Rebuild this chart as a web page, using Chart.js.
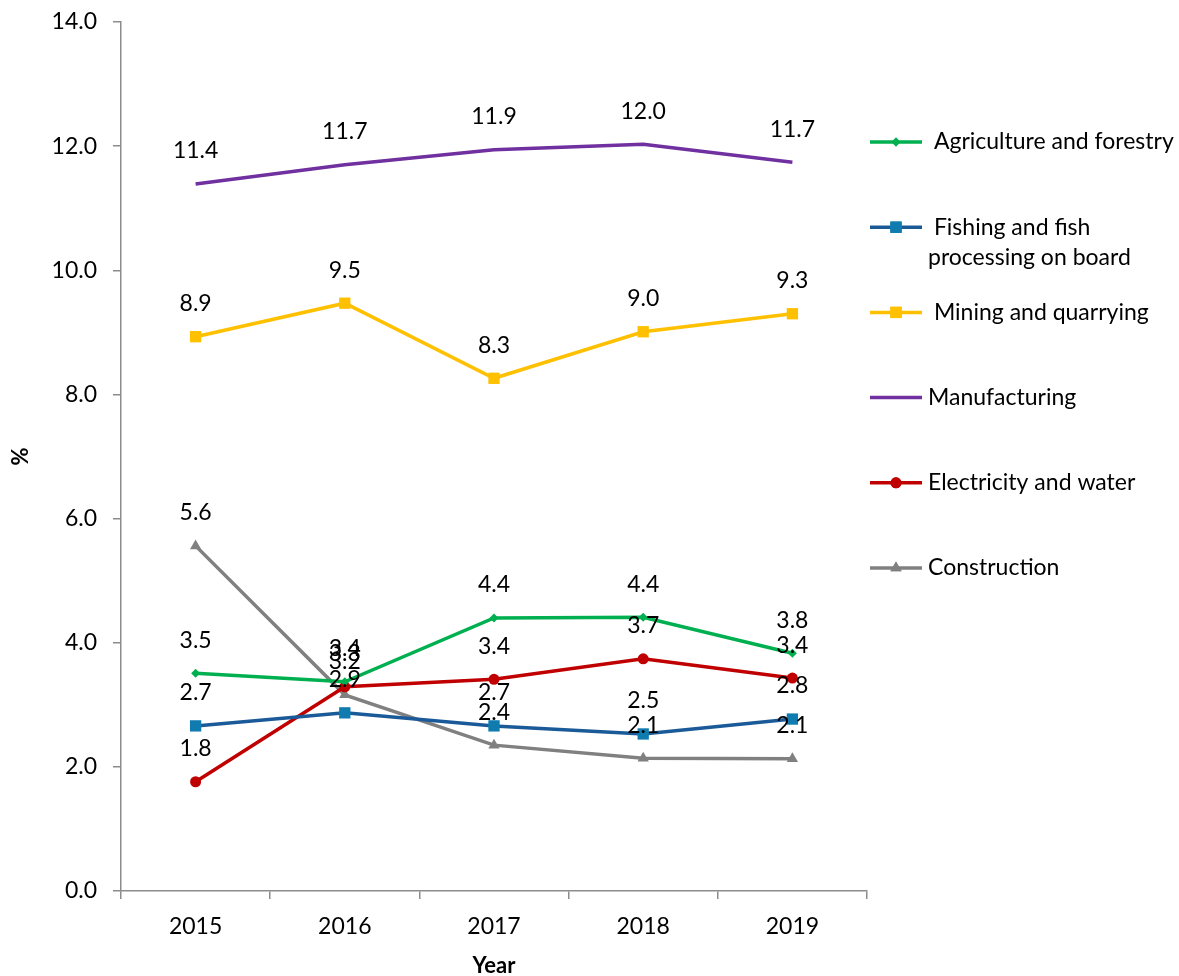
<!DOCTYPE html>
<html>
<head>
<meta charset="utf-8">
<script src="https://cdn.jsdelivr.net/npm/chart.js@4.4.1/dist/chart.umd.min.js"></script>
<style>
html, body { margin: 0; padding: 0; background: #fff; }
#wrap { width: 1179px; height: 976px; }
</style>
</head>
<body>
<div id="wrap"><canvas id="chart" width="1179" height="976"></canvas></div>
<script>
// Data (% share by sector)
const years = ['2015', '2016', '2017', '2018', '2019'];
const seriesNames = [' Agriculture and forestry', ' Fishing and fish\nprocessing on board', ' Mining and quarrying', 'Manufacturing', 'Electricity and water', 'Construction'];
const agriculture = [3.51, 3.37, 4.40, 4.41, 3.83];
const fishing = [2.66, 2.87, 2.66, 2.53, 2.77];
const mining = [8.93, 9.47, 8.26, 9.01, 9.30];
const manufacturing = [11.39, 11.70, 11.94, 12.03, 11.74];
const electricity = [1.76, 3.29, 3.41, 3.74, 3.43];
const construction = [5.56, 3.16, 2.35, 2.14, 2.13];
const yTicks = [0, 2, 4, 6, 8, 10, 12, 14];

const FONT_FAMILY = 'Lato, "Open Sans", sans-serif';
const axisColor = '#8c8c8c';

function series(label, data, line, marker, style, radius) {
    return {
        label: label,
        data: data,
        borderColor: line,
        backgroundColor: marker,
        borderWidth: 3.5,
        pointStyle: style,
        pointRadius: radius,
        pointHoverRadius: radius,
        pointBackgroundColor: marker,
        pointBorderWidth: 0,
        tension: 0
    };
}

const datasets = [
    series(seriesNames[0], agriculture, '#00b050', '#00b050', 'rectRot', 4.5),
    series(seriesNames[1], fishing, '#1b5a98', '#0f7bae', 'rect', 8),
    series(seriesNames[2], mining, '#ffc000', '#ffc000', 'rect', 8),
    series(seriesNames[3], manufacturing, '#7030a0', '#7030a0', false, 0),
    series(seriesNames[4], electricity, '#c00000', '#c00000', 'circle', 5.5),
    series(seriesNames[5], construction, '#808080', '#808080', 'triangle', 6.5)
];

// Value labels above every point
const valueLabels = {
    id: 'valueLabels',
    afterDatasetsDraw(chart) {
        const ctx = chart.ctx;
        ctx.save();
        ctx.font = '23px ' + FONT_FAMILY;
        ctx.fillStyle = '#000';
        ctx.textAlign = 'center';
        ctx.textBaseline = 'middle';
        chart.data.datasets.forEach((ds, i) => {
            chart.getDatasetMeta(i).data.forEach((pt, j) => {
                ctx.fillText(ds.data[j].toFixed(1), pt.x, pt.y - 33);
            });
        });
        ctx.restore();
    }
};

// Legend on the right, one entry per ~85px, with a wrapped label
const sideLegend = {
    id: 'sideLegend',
    afterDraw(chart) {
        const ctx = chart.ctx;
        ctx.save();
        ctx.font = '23px ' + FONT_FAMILY;
        ctx.textBaseline = 'middle';
        ctx.textAlign = 'left';
        chart.data.datasets.forEach((ds, i) => {
            const y = 142 + i * 85.2;
            ctx.strokeStyle = ds.borderColor;
            ctx.lineWidth = ds.borderWidth;
            ctx.beginPath();
            ctx.moveTo(870, y);
            ctx.lineTo(922, y);
            ctx.stroke();
            if (ds.pointStyle) {
                ctx.fillStyle = ds.pointBackgroundColor;
                Chart.helpers.drawPoint(ctx, {
                    pointStyle: ds.pointStyle,
                    radius: ds.pointRadius,
                    rotation: 0,
                    borderWidth: 0
                }, 896, y);
                ctx.fill();
            }
            ctx.fillStyle = '#000';
            ds.label.split('\n').forEach((line, k) => {
                ctx.fillText(line, 928, y + k * 30);
            });
        });
        ctx.restore();
    }
};

new Chart(document.getElementById('chart'), {
    type: 'line',
    data: { labels: years, datasets: datasets },
    options: {
        responsive: false,
        animation: false,
        layout: { padding: { left: 0, right: 312, top: 22, bottom: 0 } },
        plugins: {
            legend: { display: false },
            tooltip: { enabled: false }
        },
        scales: {
            x: {
                offset: true,
                grid: { offset: true, drawOnChartArea: false, drawTicks: true, tickLength: 8, color: axisColor, lineWidth: 1.5 },
                border: { display: true, color: axisColor, width: 1.5 },
                ticks: { color: '#000', font: { family: FONT_FAMILY, size: 23 }, padding: 14 },
                title: { display: true, text: 'Year', color: '#000', font: { family: FONT_FAMILY, size: 22, weight: 'bold' }, padding: { top: 0, bottom: -3 } },
                afterFit(scale) { scale.height = 85; scale.paddingLeft = 0; scale.paddingRight = 0; }
            },
            y: {
                min: 0,
                max: 14,
                afterBuildTicks(scale) { scale.ticks = yTicks.map(v => ({ value: v })); },
                grid: { drawOnChartArea: false, drawTicks: true, tickLength: 8, color: axisColor, lineWidth: 1.5 },
                border: { display: true, color: axisColor, width: 1.5 },
                ticks: {
                    color: '#000',
                    font: { family: FONT_FAMILY, size: 23 },
                    padding: 16,
                    callback: v => Number(v).toFixed(1)
                },
                title: { display: true, text: '%', color: '#000', font: { family: FONT_FAMILY, size: 22, weight: 'bold' }, padding: { top: 8, bottom: 0 } },
                afterFit(scale) { scale.width = 121; scale.paddingTop = 0; scale.paddingBottom = 0; }
            }
        }
    },
    plugins: [valueLabels, sideLegend]
});
</script>
</body>
</html>
